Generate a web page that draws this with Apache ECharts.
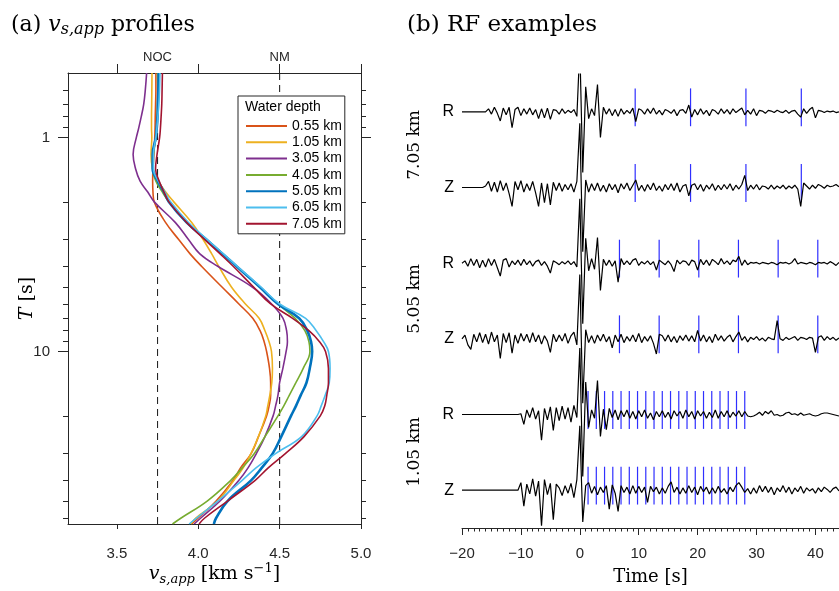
<!DOCTYPE html>
<html>
<head>
<meta charset="utf-8">
<script src="https://cdn.jsdelivr.net/npm/echarts@6/dist/echarts.min.js"></script>
<style>
html, body { margin: 0; padding: 0; background: #fff; }
#main { width: 839px; height: 591px; }
</style>
</head>
<body>
<div id="main"></div>
<script>
// (a) apparent vs profiles, one curve per water depth
var periods = [0.5,0.6,0.7,0.8,0.9,1,1.2,1.4,1.6,1.8,2,2.5,3,3.5,4,5,6,7,8,9,10,12,14,16,18,20,25,30,35,40,50,60,64];
var depthNames = ['0.55 km','1.05 km','3.05 km','4.05 km','5.05 km','6.05 km','7.05 km'];
var depthColors = ['#D95319','#EDB120','#7E2F8E','#77AC30','#0072BD','#4DBEEE','#A2142F'];
var vs055 = [3.74,3.74,3.738,3.736,3.735,3.733,3.728,3.722,3.72,3.722,3.73,3.80,3.88,3.95,4.02,4.146,4.25,4.335,4.38,4.405,4.42,4.438,4.445,4.445,4.435,4.42,4.37,4.325,4.26,4.215,4.11,4.0,3.96];
var vs105 = [3.716,3.715,3.714,3.713,3.713,3.715,3.71,3.72,3.755,3.80,3.85,3.96,4.03,4.083,4.126,4.204,4.29,4.374,4.41,4.435,4.45,4.456,4.452,4.44,4.427,4.415,4.37,4.324,4.276,4.22,4.12,3.985,3.955];
var vs305 = [3.683,3.675,3.665,3.65,3.635,3.62,3.60,3.615,3.643,3.69,3.73,3.86,3.94,4.01,4.12,4.332,4.451,4.521,4.543,4.548,4.54,4.52,4.50,4.49,4.475,4.46,4.41,4.357,4.306,4.25,4.134,4.016,3.975];
var vs405 = [3.75,3.752,3.75,3.748,3.745,3.74,3.725,3.72,3.74,3.78,3.82,3.93,4.05,4.15,4.235,4.378,4.49,4.595,4.655,4.68,4.686,4.645,4.60,4.56,4.525,4.49,4.41,4.345,4.27,4.2,4.055,3.895,3.842];
var vs505 = [3.757,3.755,3.752,3.75,3.745,3.74,3.72,3.72,3.752,3.79,3.82,3.93,4.05,4.15,4.235,4.378,4.49,4.62,4.67,4.693,4.70,4.685,4.665,4.63,4.60,4.57,4.51,4.457,4.39,4.325,4.18,4.11,4.096];
var vs605 = [3.765,3.762,3.758,3.752,3.746,3.74,3.725,3.725,3.755,3.795,3.83,3.94,4.055,4.155,4.24,4.385,4.50,4.66,4.725,4.77,4.80,4.81,4.805,4.78,4.755,4.73,4.635,4.475,4.355,4.27,4.12,3.99,3.944];
var vs705 = [3.78,3.778,3.776,3.772,3.768,3.763,3.747,3.738,3.76,3.79,3.82,3.93,4.04,4.135,4.215,4.34,4.445,4.58,4.68,4.745,4.782,4.80,4.80,4.79,4.777,4.75,4.65,4.535,4.43,4.35,4.18,4.04,4.005];
var refNames = ['NOC', 'NM'];
var refVel = [3.75, 4.5];
var velTicks = [3.5, 4.0, 4.5, 5.0];
var periodMajor = [1, 10];
var periodMinor = [0.6,0.7,0.8,0.9,2,3,4,5,6,7,8,9,20,30,40,50,60];

// (b) receiver functions, sampled every 0.5 s from -20 s (amplitude in 1/100 of trace spacing)
var t0 = -20, dt = 0.5;
var timeMajor = [-20,-10,0,10,20,30,40];
var rf705R = [
0,0,0,0,0,0,0,0, 0,4,-3,6,-2,-12,5,-4, 6,-21,3,6,-5,4,-3,5, -4,3,-9,4,-8,5,-10,3,
2,-3,4,-2,2,-1,3,-6, 85,-80,33,-9,4,-5,36,-34, 6,-3,4,-5,3,-6,4,-3, 2,-2,5,-13,4,2,-3,4,
-2,5,-3,2,-4,3,1,-2, 3,-5,2,3,-2,9,-7,3, -4,4,-3,2,-5,3,1,-3, 4,-2,3,-3,4,-1,2,5,
-4,2,-3,4,-5,2,1,-2, 2,1,-1,2,0,-1,2,-2, 1,2,-3,-7,4,-2,3,6, -8,2,1,-1,1,0,1,-1, 0];
var rf705Z = [
0,0,0,0,0,0,0,0, 2,8,-5,7,-6,9,-4,6, -8,-25,8,-3,9,-6,5,-4, 8,-7,-25,6,-20,5,-23,7,
-4,6,-5,4,-3,5,-6,8, 85,-85,10,-6,5,-4,6,-5, 3,-6,5,-3,4,-7,5,-2, 6,-4,3,10,-4,3,-5,4,
-3,6,-4,2,-5,4,-3,5, -4,6,-6,2,4,-11,3,5, -3,4,-5,3,-2,5,-4,3, -3,4,-2,5,-4,3,-2,4,
16,-4,3,-2,4,-3,2,1, -2,3,-2,2,-1,3,-2,2, -1,3,-2,-25,6,2,-2,3, -1,4,2,-1,3,1,2,4, 1];
var rf505R = [
0,3,-4,6,-3,5,-6,4, -5,6,-3,5,-6,-17,4,6, -5,3,-2,4,-3,5,-2,3, -4,2,4,-3,2,-4,-13,3,
1,-2,2,-1,3,-2,2,-5, 85,-80,33,-10,6,-8,34,-36, 5,-3,4,-4,3,-25,6,-2, 3,-2,4,6,-3,2,-1,3,
-2,2,-9,4,1,-2,3,-2, -11,4,-1,3,2,-3,4,2, -9,5,-2,4,-3,5,2,-2, 6,-1,3,-2,4,2,9,-3,
4,-2,1,0,1,-1,1,0, -1,1,0,-2,1,0,1,-1, 1,6,-1,1,0,-1,1,0, -2,1,0,1,-1,2,0,-3, 1];
var rf505Z = [
0,5,-8,-14,6,-4,8,-5, 6,-7,9,-4,5,-26,7,-5, 8,-19,5,-6,7,-3,6,-5, 8,-4,5,-7,4,-3,-18,6,
-4,5,-3,7,-6,4,9,-8, 85,-85,12,-5,4,-6,5,-3, 6,-4,3,-12,5,-4,6,-5, 3,-3,5,-4,7,-5,3,-3,
4,-6,-20,6,4,-3,5,-4, 3,-5,4,-2,5,-3,4,-4, 11,-3,5,-4,3,-5,6,-2, 4,-3,2,5,-4,3,9,-2,
3,-4,2,-1,3,-2,1,-3, 2,0,-1,24,0,-2,2,-1, 1,3,-2,2,1,-1,2,1, -18,2,4,-2,3,-1,2,-2, 1];
var rf105R = [
0,0,0,0,0,0,0,0, 0,0,0,0,0,0,0,0, 0,0,0,0,1,-13,6,-4, 9,-6,5,-34,8,-7,10,-21,
9,-8,11,-6,9,-10,12,-4, 88,-82,43,-17,6,-5,45,-29, 7,-20,8,-4,6,-7,5,-3, 6,-5,4,-6,5,-3,6,-5,
2,-7,4,-3,5,-4,3,-6, 5,-2,4,-5,6,-3,4,-6, 5,-2,4,-5,3,-4,6,-5, 4,-3,5,-4,3,-2,5,-3,
4,-2,-3,-2,0,3,-1,4, 1,5,-1,0,-2,-1,2,3, 0,1,-1,2,-1,0,1,-1, -2,-1,1,2,2,1,0,-1, -2];
var rf105Z = [
0,0,0,0,0,0,0,0, 0,0,0,0,0,0,0,0, 0,0,0,0,10,-21,8,-5, 15,-8,12,-47,14,-6,9,-39,
8,3,-7,6,-4,9,-10,14, 85,-42,6,10,-4,5,-6,4, -3,6,-25,7,-4,-28,6,-3, 4,-5,6,-4,5,-3,4,-16,
5,-2,4,-5,3,-4,5,11, -3,4,-5,3,-4,6,-3,4, -6,5,-2,4,-5,3,-4,5, -3,2,-5,4,-2,6,10,4,
-3,2,-5,3,-4,6,-2,5, -3,4,-6,3,-2,6,-3,4, -5,3,-2,5,-4,3,-1,2, -4,3,-2,4,1,-3,2,4, -1];
// predicted water reverberation times (s)
var mark705 = [9.4, 18.8, 28.2, 37.6];
var mark505 = [6.73, 13.47, 20.2, 26.93, 33.67, 40.4];
var mark105 = [1.4,2.8,4.2,5.6,7,8.4,9.8,11.2,12.6,14,15.4,16.8,18.2,19.6,21,22.4,23.8,25.2,26.6,28];
var traceComps = ['R','Z','R','Z','R','Z'];
var traceOffsets = [5,4,3,2,1,0];
var depthLabels = ['7.05 km','5.05 km','1.05 km'];

var timeMinor = [];
for (var s = -20; s <= 44; s++) timeMinor.push(s);

var sans = 'Liberation Sans';
var serif = 'DejaVu Serif';
var axisCol = '#262626';

var myChart = echarts.init(document.getElementById('main'));

var series = [];
[vs055, vs105, vs305, vs405, vs505, vs605, vs705].forEach(function (vs, k) {
    series.push({
        name: depthNames[k],
        type: 'line',
        xAxisIndex: 0, yAxisIndex: 0,
        data: periods.map(function (T, i) { return [vs[i], T]; }),
        symbol: 'none',
        smooth: 0.4,
        z: 3,
        lineStyle: { color: depthColors[k], width: k === 4 ? 2.6 : 1.6 },
        itemStyle: { color: depthColors[k] }
    });
});
refVel.forEach(function (v) {
    series.push({
        type: 'line', xAxisIndex: 0, yAxisIndex: 0,
        data: [[v, 0.5], [v, 64]],
        symbol: 'none', silent: true, z: 2,
        lineStyle: { color: axisCol, width: 1.1, type: [7, 5] }
    });
});

var traceSets = [rf705R, rf705Z, rf505R, rf505Z, rf105R, rf105Z];
var markSets = [mark705, mark705, mark505, mark505, mark105, mark105];
var markData = [];
markSets.forEach(function (m, k) {
    m.forEach(function (t) { markData.push([t, traceOffsets[k]]); });
});
series.push({
    type: 'custom', xAxisIndex: 3, yAxisIndex: 4,
    data: markData, silent: true, z: 2,
    renderItem: function (params, api) {
        var a = api.coord([api.value(0), api.value(1) + 0.31]);
        var b = api.coord([api.value(0), api.value(1) - 0.19]);
        return { type: 'line', shape: { x1: a[0], y1: a[1], x2: b[0], y2: b[1] },
                 style: { stroke: '#2f2fff', lineWidth: 1.2 } };
    }
});
traceSets.forEach(function (amp, k) {
    series.push({
        type: 'line', xAxisIndex: 3, yAxisIndex: 4,
        data: amp.map(function (a, i) { return [t0 + i * dt, traceOffsets[k] + a / 100]; }),
        symbol: 'none', silent: true, z: 4,
        lineStyle: { color: '#000', width: 1.2 }
    });
});

function logY(pos, ticks, len, withLabel) {
    return {
        gridIndex: 0, type: 'log', min: 0.5, max: 64, inverse: true, position: pos,
        axisLine: { show: withLabel, onZero: false, lineStyle: { color: axisCol, width: 1 } },
        axisTick: { inside: false, length: len, customValues: ticks, lineStyle: { color: axisCol } },
        axisLabel: withLabel && pos === 'left' ? {
            customValues: periodMajor, margin: 18, fontFamily: sans, fontSize: 15, color: axisCol,
            formatter: function (v) { return String(v); }
        } : { show: false },
        splitLine: { show: false }
    };
}

var yLeft = logY('left', periodMajor, 10, true);
yLeft.name = '{it|T} [s]';
yLeft.nameLocation = 'middle';
yLeft.nameGap = 31;
yLeft.nameMoveOverlap = false;
yLeft.nameTextStyle = { fontFamily: serif, fontSize: 19, color: '#000', rich: { it: { fontStyle: 'italic', fontSize: 19 } } };

option = {
    animation: false,
    backgroundColor: '#fff',
    title: [{
        text: '(a) {it|v}{sub|s,app} profiles',
        left: 6, top: 7,
        textStyle: { fontFamily: serif, fontSize: 22, fontWeight: 'normal', color: '#000',
            rich: { it: { fontStyle: 'italic', fontSize: 22, lineHeight: 26 },
                    sub: { fontStyle: 'italic', fontSize: 16, lineHeight: 16, verticalAlign: 'bottom' } } }
    }, {
        text: '(b) RF examples',
        left: 402, top: 7,
        textStyle: { fontFamily: serif, fontSize: 23, fontWeight: 'normal', color: '#000', lineHeight: 26 }
    }],
    legend: {
        data: depthNames,
        orient: 'vertical',
        left: 238, top: 96,
        padding: [23, 3, 3, 7],
        itemWidth: 41, itemHeight: 14, itemGap: 2.3,
        selectedMode: false,
        backgroundColor: '#fff',
        borderColor: axisCol, borderWidth: 1,
        itemStyle: { opacity: 0 },
        textStyle: { fontFamily: sans, fontSize: 14, color: '#000' },
        z: 10
    },
    graphic: [
        { type: 'text', left: 245, top: 100, z: 100,
          style: { text: 'Water depth', font: '14px "Liberation Sans"', fill: '#000' } },
        { type: 'text', x: 415, y: 145, rotation: Math.PI / 2, z: 100,
          style: { text: depthLabels[0], font: '17px "DejaVu Serif"', fill: '#000', align: 'center', verticalAlign: 'middle' } },
        { type: 'text', x: 415, y: 299, rotation: Math.PI / 2, z: 100,
          style: { text: depthLabels[1], font: '17px "DejaVu Serif"', fill: '#000', align: 'center', verticalAlign: 'middle' } },
        { type: 'text', x: 415, y: 452, rotation: Math.PI / 2, z: 100,
          style: { text: depthLabels[2], font: '17px "DejaVu Serif"', fill: '#000', align: 'center', verticalAlign: 'middle' } }
    ],
    grid: [
        { left: 68, top: 73, width: 293, height: 455 },
        { left: 462, top: 74, width: 377, height: 456 }
    ],
    xAxis: [{
        gridIndex: 0, type: 'value', min: 3.2, max: 5.0, position: 'bottom',
        axisLine: { onZero: false, lineStyle: { color: axisCol } },
        axisTick: { inside: false, length: 5, customValues: velTicks, lineStyle: { color: axisCol } },
        axisLabel: { customValues: velTicks, margin: 22, fontFamily: sans, fontSize: 15, color: axisCol,
            formatter: function (v) { return v.toFixed(1); } },
        splitLine: { show: false },
        name: '{it|v}{sub|s,app} [km s{sup|\u22121}]',
        nameLocation: 'middle', nameGap: 38, nameMoveOverlap: false,
        nameTextStyle: { fontFamily: serif, fontSize: 19, color: '#000', lineHeight: 24,
            rich: { it: { fontStyle: 'italic', fontSize: 19, lineHeight: 24 },
                    sub: { fontStyle: 'italic', fontSize: 13, lineHeight: 14, verticalAlign: 'bottom' },
                    sup: { fontSize: 13, lineHeight: 14, verticalAlign: 'top' } } }
    }, {
        gridIndex: 0, type: 'value', min: 3.2, max: 5.0, position: 'top',
        axisLine: { onZero: false, lineStyle: { color: axisCol } },
        axisTick: { inside: false, length: 9, customValues: velTicks, lineStyle: { color: axisCol } },
        axisLabel: { customValues: refVel, margin: 9, fontFamily: sans, fontSize: 13, color: axisCol,
            formatter: function (v) { return refNames[refVel.indexOf(v)]; } },
        splitLine: { show: false }
    }, {
        gridIndex: 1, type: 'value', min: -20, max: 44, position: 'bottom',
        axisLine: { onZero: false, lineStyle: { color: axisCol } },
        axisTick: { inside: false, length: 3.5, customValues: timeMinor, lineStyle: { color: axisCol } },
        axisLabel: { show: false },
        splitLine: { show: false }
    }, {
        gridIndex: 1, type: 'value', min: -20, max: 44, position: 'bottom',
        axisLine: { show: false, onZero: false },
        axisTick: { inside: false, length: 7, customValues: timeMajor, lineStyle: { color: axisCol } },
        axisLabel: { customValues: timeMajor, margin: 18, fontFamily: sans, fontSize: 15, color: axisCol,
            formatter: function (v) { return v < 0 ? '\u2212' + (-v) : String(v); } },
        splitLine: { show: false },
        name: 'Time [s]', nameLocation: 'middle', nameGap: 40, nameMoveOverlap: false,
        nameTextStyle: { fontFamily: serif, fontSize: 18, color: '#000' }
    }],
    yAxis: [
        yLeft,
        logY('left', periodMinor, 5, false),
        logY('right', periodMajor, 10, true),
        logY('right', periodMinor, 5, false),
        {
            gridIndex: 1, type: 'value', min: -0.5, max: 5.5,
            axisLine: { show: false, onZero: false }, axisTick: { show: false }, splitLine: { show: false },
            axisLabel: { customValues: traceOffsets, margin: 8, fontFamily: sans, fontSize: 16, color: '#000',
                formatter: function (v) { return traceComps[traceOffsets.indexOf(v)]; } }
        }
    ],
    series: series
};
myChart.setOption(option);
window.addEventListener('resize', function () {
    myChart.resize();
});
</script>
</body>
</html>
